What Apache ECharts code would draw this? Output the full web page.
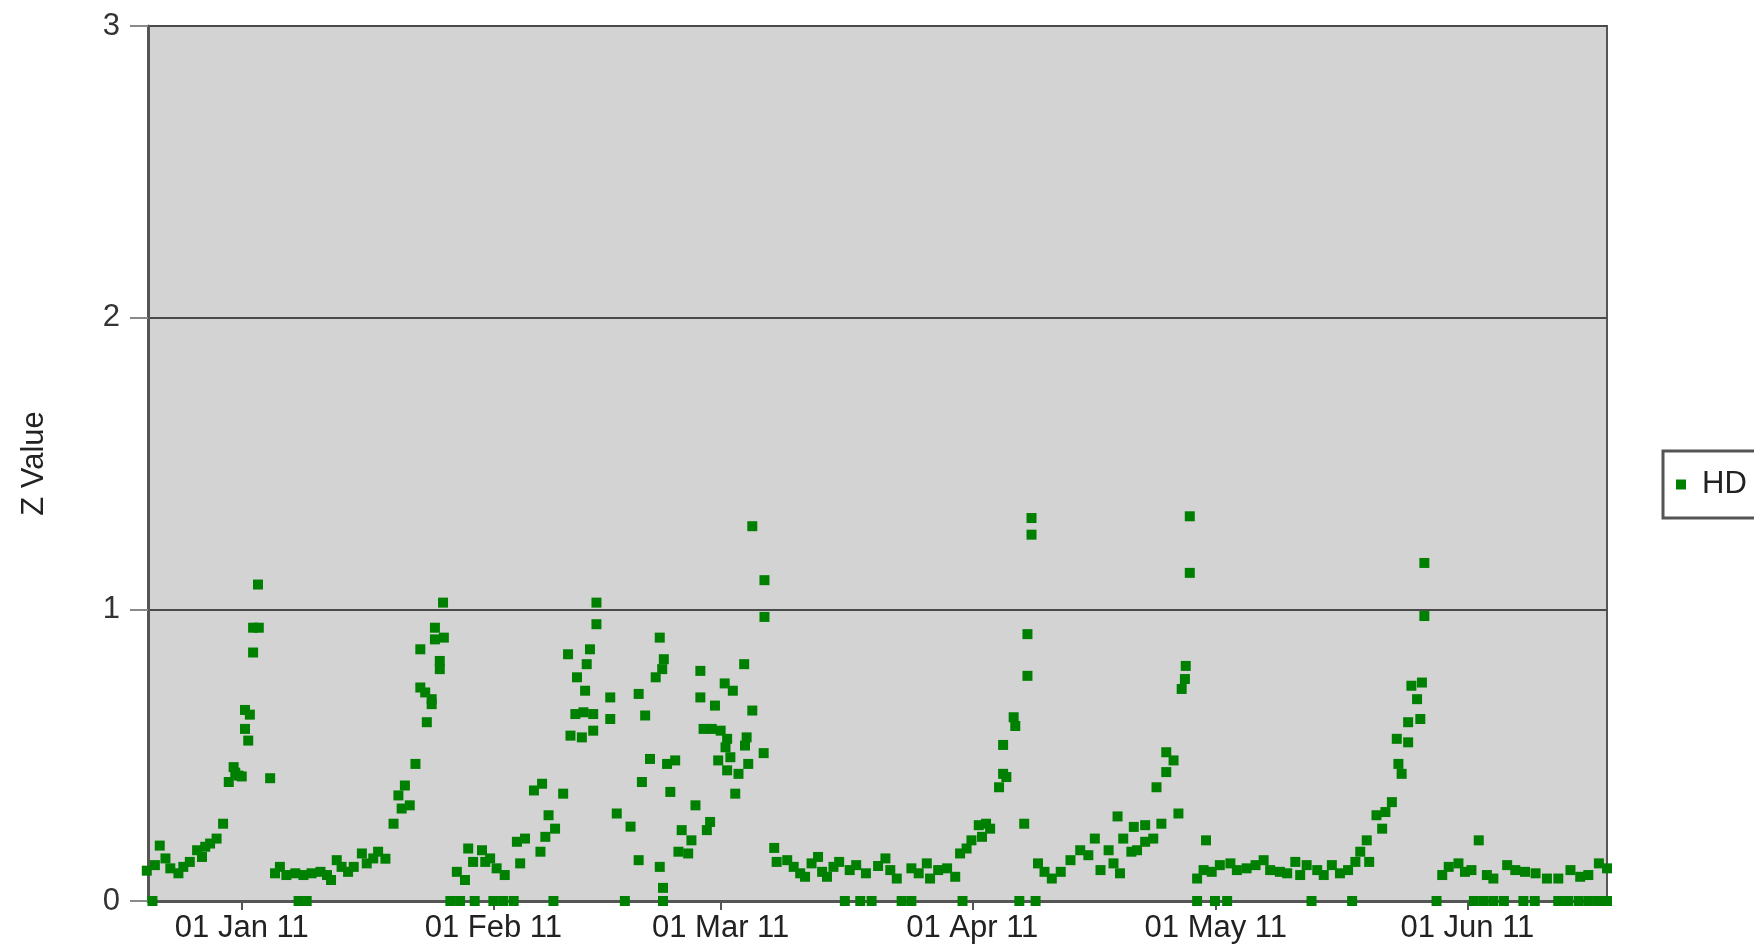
<!DOCTYPE html>
<html>
<head>
<meta charset="utf-8">
<script src="https://cdn.jsdelivr.net/npm/echarts@6/dist/echarts.min.js"></script>
<style>
  html, body { margin: 0; padding: 0; background: #ffffff; }
  #chart { width: 1754px; height: 947px; }
</style>
</head>
<body>
<div id="chart"></div>
<script>
// ---- data -------------------------------------------------------------
// Each point is [day offset from 1 Jan 2011, Z value].
const seriesName = 'HD';
const yTicks = [0, 1, 2, 3];
const monthTicks = ['2011-01-01', '2011-02-01', '2011-03-01', '2011-04-01', '2011-05-01', '2011-06-01'];
const monthNames = ['Jan', 'Feb', 'Mar', 'Apr', 'May', 'Jun', 'Jul', 'Aug', 'Sep', 'Oct', 'Nov', 'Dec'];
const axisStartDay = -11.55;
const axisEndDay = 168.2;

const decJanPoints = [
  [-11.7, 0.104], [-10.7, 0.123], [-10.1, 0.19], [-9.4, 0.146], [-8.8, 0.112], [-7.8, 0.095],
  [-7.2, 0.117], [-6.4, 0.134], [-5.5, 0.174], [-4.9, 0.151], [-4.5, 0.186], [-3.9, 0.197],
  [-3.1, 0.214], [-2.3, 0.265], [-1.6, 0.408], [-1.0, 0.459], [-0.8, 0.44], [-0.4, 0.43],
  [0.0, 0.427], [0.4, 0.655], [0.4, 0.59], [0.8, 0.55], [1.0, 0.639], [1.4, 0.852],
  [1.4, 0.937], [2.0, 1.085], [2.1, 0.937], [3.5, 0.421], [4.1, 0.095], [4.7, 0.117],
  [5.5, 0.089], [6.6, 0.095], [7.6, 0.089], [8.6, 0.095], [9.7, 0.1], [10.5, 0.089],
  [11.0, 0.072], [11.7, 0.14], [12.3, 0.117], [13.1, 0.1], [13.8, 0.117], [14.8, 0.163],
  [15.4, 0.129], [16.2, 0.146], [16.8, 0.169], [17.7, 0.145]
];

const janFebPoints = [
  [18.7, 0.265], [19.3, 0.362], [19.7, 0.317], [20.1, 0.396], [20.7, 0.328], [21.4, 0.47],
  [22.0, 0.732], [22.0, 0.863], [22.6, 0.715], [22.8, 0.613], [23.4, 0.692], [23.4, 0.675],
  [23.8, 0.937], [23.8, 0.897], [24.4, 0.823], [24.4, 0.795], [24.8, 1.023], [24.9, 0.903],
  [26.5, 0.1], [27.5, 0.072], [27.9, 0.18], [28.5, 0.134], [29.6, 0.174], [30.0, 0.134],
  [30.6, 0.146], [31.4, 0.112], [32.4, 0.089], [33.9, 0.203], [34.3, 0.129], [34.9, 0.214],
  [36.0, 0.379], [36.8, 0.169], [37.0, 0.402], [37.4, 0.22], [37.8, 0.294], [38.6, 0.248],
  [39.6, 0.368]
];

const febMarPoints = [
  [40.2, 0.846], [40.5, 0.567], [41.1, 0.641], [41.3, 0.767], [41.9, 0.561], [42.1, 0.647],
  [42.3, 0.721], [42.5, 0.812], [42.9, 0.863], [43.3, 0.641], [43.3, 0.584], [43.7, 0.949],
  [43.7, 1.023], [45.4, 0.698], [45.4, 0.624], [46.2, 0.3], [47.9, 0.255], [48.9, 0.71],
  [48.9, 0.14], [49.3, 0.408], [49.7, 0.636], [50.3, 0.487], [51.0, 0.767], [51.5, 0.903],
  [51.5, 0.117], [51.8, 0.795], [51.9, 0.045], [52.0, 0.829], [52.4, 0.47], [52.8, 0.374],
  [53.4, 0.482], [53.8, 0.169], [54.2, 0.243], [55.0, 0.163], [55.4, 0.208], [55.9, 0.328],
  [56.5, 0.789], [56.5, 0.698], [56.9, 0.59], [57.3, 0.243], [57.7, 0.271], [57.9, 0.59],
  [58.3, 0.67], [58.7, 0.482], [59.0, 0.584], [59.5, 0.746], [59.6, 0.527], [59.8, 0.556],
  [59.8, 0.448], [60.2, 0.493], [60.5, 0.721], [60.8, 0.368], [61.2, 0.436], [61.9, 0.812],
  [62.0, 0.533], [62.2, 0.561], [62.4, 0.47], [62.9, 0.653], [62.9, 1.285], [64.3, 0.507],
  [64.4, 1.10], [64.4, 0.974]
];

const marAprPoints = [
  [65.6, 0.182], [65.9, 0.134], [67.2, 0.14], [68.0, 0.117], [68.8, 0.095], [69.4, 0.083],
  [70.2, 0.129], [71.0, 0.151], [71.5, 0.1], [72.1, 0.083], [72.9, 0.117], [73.6, 0.134],
  [74.9, 0.106], [75.7, 0.123], [76.9, 0.095], [78.4, 0.12], [79.3, 0.146], [79.9, 0.106],
  [80.7, 0.077], [82.5, 0.112], [83.4, 0.095], [84.4, 0.129], [84.8, 0.077], [85.8, 0.106],
  [86.9, 0.112], [87.9, 0.083], [88.5, 0.163], [89.3, 0.18], [89.9, 0.208], [90.8, 0.26],
  [91.2, 0.22], [91.7, 0.265], [92.2, 0.248], [93.3, 0.39], [93.8, 0.436], [93.8, 0.535],
  [94.2, 0.425], [95.1, 0.63], [95.3, 0.60], [96.4, 0.265], [96.8, 0.915], [96.8, 0.772],
  [97.3, 1.313], [97.3, 1.256]
];

const aprMayPoints = [
  [98.1, 0.129], [98.9, 0.1], [99.8, 0.077], [100.9, 0.1], [102.1, 0.14], [103.3, 0.174],
  [104.3, 0.157], [105.1, 0.214], [105.8, 0.106], [106.8, 0.174], [107.4, 0.129], [107.9, 0.29],
  [108.2, 0.095], [108.6, 0.214], [109.6, 0.169], [109.9, 0.254], [110.3, 0.174], [111.3, 0.26],
  [111.3, 0.203], [112.3, 0.214], [112.7, 0.39], [113.3, 0.265], [113.9, 0.442], [113.9, 0.51],
  [114.8, 0.482], [115.4, 0.3], [115.8, 0.727], [116.2, 0.761], [116.3, 0.806], [116.8, 1.319],
  [116.8, 1.125], [117.7, 0.077], [118.5, 0.106], [118.8, 0.208]
];

const mayJunPoints = [
  [119.5, 0.1], [120.5, 0.123], [121.8, 0.129], [122.6, 0.106], [123.8, 0.112], [124.9, 0.123],
  [125.9, 0.14], [126.7, 0.106], [127.9, 0.1], [128.8, 0.095], [129.8, 0.134], [130.4, 0.089],
  [131.2, 0.123], [132.5, 0.106], [133.3, 0.089], [134.3, 0.123], [135.3, 0.095], [136.3, 0.106],
  [137.2, 0.134], [137.8, 0.169], [138.6, 0.208], [138.9, 0.134], [139.8, 0.294], [140.5, 0.248],
  [140.9, 0.305], [141.7, 0.339], [142.3, 0.556], [142.5, 0.47], [142.9, 0.436], [143.7, 0.544],
  [143.7, 0.613], [144.1, 0.738], [144.8, 0.692], [145.2, 0.624], [145.4, 0.749], [145.7, 0.977],
  [145.7, 1.159], [147.9, 0.089], [148.7, 0.117], [149.9, 0.129], [150.7, 0.1], [151.5, 0.106],
  [152.4, 0.208], [153.4, 0.089], [154.2, 0.077], [155.9, 0.123], [156.9, 0.106], [158.1, 0.1],
  [159.4, 0.095], [160.8, 0.077], [162.2, 0.077], [163.7, 0.106], [164.9, 0.083], [165.9, 0.089],
  [167.2, 0.129], [168.2, 0.112]
];

// Days on which the reading is exactly zero
const zeroDays = [
  -11.0, 7.0, 8.0, 25.7, 26.9, 28.7, 31.0, 32.2, 33.5, 38.4, 47.2, 51.9, 74.3, 76.2, 77.6,
  81.3, 82.5, 88.8, 95.8, 97.8, 117.7, 119.9, 121.4, 131.8, 136.8, 147.2, 151.8, 153.0,
  154.2, 155.5, 157.9, 159.3, 162.2, 163.4, 164.7, 165.9, 167.1, 168.2
];

// ---- helpers ----------------------------------------------------------
const DAY_MS = 86400000;
const ORIGIN = Date.UTC(2011, 0, 1);
const pad2 = n => (n < 10 ? '0' : '') + n;
// day offset -> "01 Jan 11"
const formatDay = d => {
  const dt = new Date(ORIGIN + Math.round(d * DAY_MS));
  return pad2(dt.getUTCDate()) + ' ' + monthNames[dt.getUTCMonth()] + ' ' + String(dt.getUTCFullYear()).slice(2);
};
const monthTickDays = monthTicks.map(s => (Date.parse(s + 'T00:00:00Z') - ORIGIN) / DAY_MS);

const allPoints = []
  .concat(decJanPoints, janFebPoints, febMarPoints, marAprPoints, aprMayPoints, mayJunPoints)
  .concat(zeroDays.map(d => [d, 0]));

const FONT = '"Liberation Sans", Arial, sans-serif';

// ---- chart ------------------------------------------------------------
const chart = echarts.init(document.getElementById('chart'), null, { renderer: 'canvas' });

chart.setOption({
  animation: false,
  backgroundColor: '#ffffff',
  textStyle: { fontFamily: FONT },
  grid: {
    left: 148, right: 147, top: 26, bottom: 46,
    show: true,
    backgroundColor: '#d3d3d3',
    borderColor: '#555555',
    borderWidth: 2
  },
  legend: {
    data: [seriesName],
    icon: 'rect',
    itemWidth: 10,
    itemHeight: 10,
    left: 1663,
    top: 451,
    padding: [18, 60, 18, 13],
    borderColor: '#555555',
    borderWidth: 3,
    borderRadius: 0,
    backgroundColor: '#ffffff',
    itemStyle: { opacity: 1 },
    textStyle: { fontSize: 31, color: '#222222', fontFamily: FONT, padding: [0, 0, 0, 11] }
  },
  xAxis: {
    type: 'value',
    min: axisStartDay,
    max: axisEndDay,
    axisLine: { show: true, onZero: false, lineStyle: { color: '#555555', width: 3 } },
    axisTick: {
      show: true,
      customValues: monthTickDays,
      length: 9,
      lineStyle: { color: '#555555', width: 2 }
    },
    axisLabel: {
      customValues: monthTickDays,
      formatter: formatDay,
      fontSize: 31,
      color: '#222222',
      fontFamily: FONT,
      margin: 12
    },
    splitLine: { show: false }
  },
  yAxis: {
    type: 'value',
    min: yTicks[0],
    max: yTicks[yTicks.length - 1],
    interval: 1,
    name: 'Z Value',
    nameLocation: 'middle',
    nameGap: 98,
    nameTextStyle: { fontSize: 31, color: '#222222', fontFamily: FONT },
    axisLine: { show: true, onZero: false, lineStyle: { color: '#555555', width: 3 } },
    axisTick: { show: true, length: 18, lineStyle: { color: '#8a8a8a', width: 2 } },
    axisLabel: { fontSize: 31, color: '#333333', fontFamily: FONT, margin: 28 },
    splitLine: { show: true, lineStyle: { color: '#4a4a4a', width: 2 } }
  },
  series: [{
    name: seriesName,
    type: 'scatter',
    symbol: 'rect',
    symbolSize: 10,
    clip: false,
    itemStyle: { color: '#008000', opacity: 1 },
    data: allPoints
  }]
});
</script>
</body>
</html>
